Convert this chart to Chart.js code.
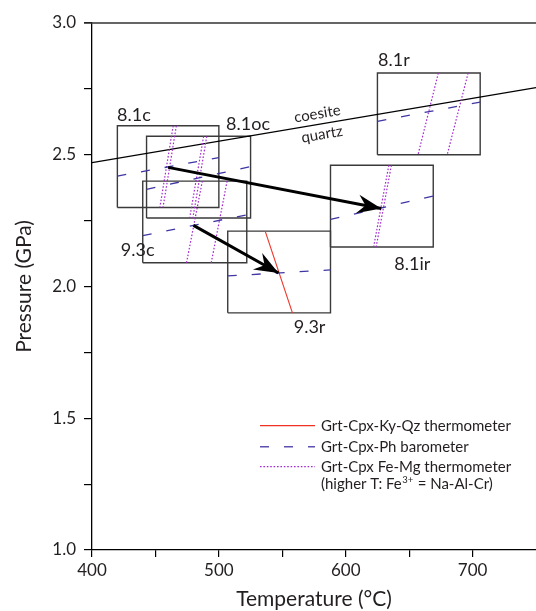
<!DOCTYPE html>
<html>
<head>
<meta charset="utf-8">
<script src="https://cdn.jsdelivr.net/npm/chart.js@4.4.1/dist/chart.umd.min.js"></script>
<style>
html,body{margin:0;padding:0;background:#fff;overflow:hidden;}
#wrap{width:536px;height:611px;position:relative;}
</style>
</head>
<body>
<div id="wrap"><canvas id="c" width="536" height="611"></canvas></div>
<script>
// ---------------- DATA ----------------
const samples   = ['8.1c', '8.1oc', '9.3c', '8.1ir', '8.1r', '9.3r'];
// P-T boxes (°C, GPa)
const boxTmin   = [420, 443, 440, 588, 625, 507];
const boxTmax   = [500, 525, 522, 669, 706, 588];
const boxPmin   = [2.30, 2.26, 2.09, 2.15, 2.50, 1.90];
const boxPmax   = [2.61, 2.57, 2.40, 2.46, 2.81, 2.21];
// Grt-Cpx-Ph barometer: P at the box's low-T and high-T edge
const baroPlow  = [2.419, 2.369, 2.193, 2.255, 2.627, 2.040];
const baroPhigh = [2.489, 2.455, 2.272, 2.343, 2.700, 2.063];
// Grt-Cpx Fe-Mg thermometer: T at the box top (Pmax) and bottom (Pmin)
const femgLowTop  = [464.0, 488.0, 487.0, 634.0, 673.0, null];
const femgLowBot  = [453.5, 477.0, 474.5, 622.0, 657.0, null];
const femgHighTop = [466.5, 490.5, 506.5, 636.0, 696.5, null];
const femgHighBot = [456.0, 479.5, 494.0, 624.0, 680.0, null];
// Grt-Cpx-Ky-Qz thermometer: T at box top and bottom
const kyqzTop   = [null, null, null, null, null, 536.5];
const kyqzBot   = [null, null, null, null, null, 558.0];
// coesite = quartz reaction
const coesiteT  = [400, 750];
const coesiteP  = [2.47, 2.755];
// P-T path arrows (start, end)
const arrowT    = [[460, 628], [480, 547]];
const arrowP    = [[2.452, 2.296], [2.232, 2.051]];
// sample label anchors (°C, GPa)
const labelT    = [433.0, 523.0, 436.0, 652.5, 638.0, 571.5];
const labelP    = [2.649, 2.615, 2.137, 2.086, 2.858, 1.844];
// axis ticks
const xTicks    = [400, 450, 500, 550, 600, 650, 700];
const yTicks    = [1.0, 1.25, 1.5, 1.75, 2.0, 2.25, 2.5, 2.75, 3.0];
const legendLabels = ['Grt-Cpx-Ky-Qz thermometer', 'Grt-Cpx-Ph barometer', 'Grt-Cpx Fe-Mg thermometer'];

// ---------------- STYLE ----------------
const FONT = 'Lato, "Open Sans", sans-serif';
const INK = '#231f20';
const RED = '#ee3124';
const BLUE = '#3f36a3';
const PURPLE = '#a42bd0';
const BOXC = '#3a3a3a';

const datasets = [];
// boxes
samples.forEach((s, i) => {
  datasets.push({
    label: 'box ' + s,
    data: [
      {x: boxTmin[i], y: boxPmin[i]}, {x: boxTmax[i], y: boxPmin[i]},
      {x: boxTmax[i], y: boxPmax[i]}, {x: boxTmin[i], y: boxPmax[i]},
      {x: boxTmin[i], y: boxPmin[i]}
    ],
    borderColor: BOXC, borderWidth: 1.4, order: 5
  });
});
// coesite-quartz
datasets.push({
  label: 'coesite-quartz',
  data: coesiteT.map((t, i) => ({x: t, y: coesiteP[i]})),
  borderColor: '#000', borderWidth: 1.2, order: 4
});
// barometer
samples.forEach((s, i) => {
  datasets.push({
    label: 'baro ' + s,
    data: [{x: boxTmin[i], y: baroPlow[i]}, {x: boxTmax[i], y: baroPhigh[i]}],
    borderColor: BLUE, borderWidth: 1.3, borderDash: [9, 15], order: 3
  });
});
// Fe-Mg thermometer
samples.forEach((s, i) => {
  if (femgLowTop[i] !== null) {
    datasets.push({
      label: 'femg low ' + s,
      data: [{x: femgLowTop[i], y: boxPmax[i]}, {x: femgLowBot[i], y: boxPmin[i]}],
      borderColor: PURPLE, borderWidth: 1.2, borderDash: [1.6, 1.8], order: 3
    });
    datasets.push({
      label: 'femg high ' + s,
      data: [{x: femgHighTop[i], y: boxPmax[i]}, {x: femgHighBot[i], y: boxPmin[i]}],
      borderColor: PURPLE, borderWidth: 1.2, borderDash: [1.6, 1.8], order: 3
    });
  }
  if (kyqzTop[i] !== null) {
    datasets.push({
      label: 'kyqz ' + s,
      data: [{x: kyqzTop[i], y: boxPmax[i]}, {x: kyqzBot[i], y: boxPmin[i]}],
      borderColor: RED, borderWidth: 1.1, order: 3
    });
  }
});
// arrows
arrowT.forEach((ts, k) => {
  datasets.push({
    label: 'arrow ' + k,
    data: ts.map((t, j) => ({x: t, y: arrowP[k][j]})),
    borderColor: '#000', borderWidth: 3, order: 1, isArrow: true
  });
});

const arrowPlugin = {
  id: 'arrowheads',
  afterDatasetsDraw(chart) {
    const ctx = chart.ctx;
    chart.data.datasets.forEach((ds, i) => {
      if (!ds.isArrow) return;
      const pts = chart.getDatasetMeta(i).data;
      const a = pts[pts.length - 2], b = pts[pts.length - 1];
      const dx = b.x - a.x, dy = b.y - a.y, len = Math.hypot(dx, dy);
      const ux = dx / len, uy = dy / len, px = -uy, py = ux;
      const L = 24, W = 9.5, N = 16;
      ctx.save();
      ctx.fillStyle = '#000';
      ctx.beginPath();
      ctx.moveTo(b.x, b.y);
      ctx.lineTo(b.x - L * ux + W * px, b.y - L * uy + W * py);
      ctx.lineTo(b.x - N * ux, b.y - N * uy);
      ctx.lineTo(b.x - L * ux - W * px, b.y - L * uy - W * py);
      ctx.closePath();
      ctx.fill();
      ctx.restore();
    });
  }
};

const textPlugin = {
  id: 'texts',
  afterDatasetsDraw(chart) {
    const ctx = chart.ctx, xs = chart.scales.x, ys = chart.scales.y;
    ctx.save();
    ctx.fillStyle = INK;
    ctx.textAlign = 'center';
    ctx.textBaseline = 'middle';
    ctx.font = '18px ' + FONT;
    samples.forEach((s, i) => {
      ctx.fillText(s, xs.getPixelForValue(labelT[i]), ys.getPixelForValue(labelP[i]));
    });
    // coesite / quartz labels along the reaction line
    const x1 = xs.getPixelForValue(coesiteT[0]), y1 = ys.getPixelForValue(coesiteP[0]);
    const x2 = xs.getPixelForValue(coesiteT[1]), y2 = ys.getPixelForValue(coesiteP[1]);
    const ang = Math.atan2(y2 - y1, x2 - x1);
    ctx.font = '15px ' + FONT;
    [['coesite', 579, -10.5], ['quartz', 580, 10.5]].forEach(([txt, t, off]) => {
      const pT = coesiteP[0] + (t - coesiteT[0]) / (coesiteT[1] - coesiteT[0]) * (coesiteP[1] - coesiteP[0]);
      const cx = xs.getPixelForValue(t), cy = ys.getPixelForValue(pT);
      ctx.save();
      ctx.translate(cx, cy);
      ctx.rotate(ang);
      ctx.fillText(txt, 0, off);
      ctx.restore();
    });
    ctx.restore();
  },
  afterDraw(chart) {
    const ctx = chart.ctx, ca = chart.chartArea;
    ctx.save();
    // top frame line
    ctx.strokeStyle = '#333';
    ctx.lineWidth = 1.3;
    ctx.beginPath();
    ctx.moveTo(ca.left - 8, ca.top);
    ctx.lineTo(ca.right, ca.top);
    ctx.stroke();
    // legend
    const x0 = 260, x1 = 315, tx = 321;
    const rows = [425.7, 446.7, 466.7];
    const styles = [
      {c: RED, d: [], w: 1.2},
      {c: '#5b50b0', d: [9, 15], w: 1.4},
      {c: PURPLE, d: [1.6, 1.8], w: 1.2}
    ];
    rows.forEach((y, k) => {
      ctx.strokeStyle = styles[k].c;
      ctx.lineWidth = styles[k].w;
      ctx.setLineDash(styles[k].d);
      ctx.beginPath();
      ctx.moveTo(x0, y);
      ctx.lineTo(x1, y);
      ctx.stroke();
    });
    ctx.setLineDash([]);
    ctx.fillStyle = INK;
    ctx.textAlign = 'left';
    ctx.textBaseline = 'middle';
    ctx.font = '15px ' + FONT;
    legendLabels.forEach((t, k) => ctx.fillText(t, tx, rows[k]));
    // (higher T: Fe3+ = Na-Al-Cr)
    const y4 = 484;
    let x = tx;
    const p1 = '(higher T: Fe';
    ctx.fillText(p1, x, y4);
    x += ctx.measureText(p1).width + 0.5;
    ctx.font = '9.5px ' + FONT;
    ctx.fillText('3+', x, y4 - 4.5);
    x += ctx.measureText('3+').width + 0.5;
    ctx.font = '15px ' + FONT;
    ctx.fillText(' = Na-Al-Cr)', x, y4);
    ctx.restore();
  }
};

new Chart(document.getElementById('c'), {
  type: 'scatter',
  data: {datasets},
  options: {
    responsive: false,
    animation: false,
    devicePixelRatio: 1,
    showLine: true,
    elements: {point: {radius: 0, hoverRadius: 0}, line: {tension: 0, fill: false}},
    layout: {padding: {top: 23, left: 0, right: 0, bottom: 0}},
    plugins: {legend: {display: false}, tooltip: {enabled: false}},
    scales: {
      x: {
        type: 'linear', min: 400, max: 750,
        afterBuildTicks: s => { s.ticks = xTicks.map(v => ({value: v})); },
        afterFit: s => { s.height = 61; },
        ticks: {
          autoSkip: false, maxRotation: 0, padding: 3,
          callback: v => (v % 100 === 0 ? String(v) : ''),
          font: {family: FONT, size: 17}, color: INK
        },
        grid: {drawOnChartArea: false, tickLength: 7, color: '#000', lineWidth: 1.2},
        border: {color: '#000', width: 1.3},
        title: {display: true, text: 'Temperature (°C)', color: INK,
                font: {family: FONT, size: 21, lineHeight: 1.1}, padding: {top: 0, bottom: 0}}
      },
      y: {
        type: 'linear', min: 1, max: 3,
        afterBuildTicks: s => { s.ticks = yTicks.map(v => ({value: v})); },
        afterFit: s => { s.width = 92; },
        ticks: {
          autoSkip: false, padding: 8,
          callback: v => (Math.round(v * 100) % 50 === 0 ? v.toFixed(1) : ''),
          font: {family: FONT, size: 17}, color: INK
        },
        grid: {drawOnChartArea: false, tickLength: 8, color: '#000', lineWidth: 1.2},
        border: {color: '#000', width: 1.3},
        title: {display: true, text: 'Pressure (GPa)', color: INK,
                font: {family: FONT, size: 21, lineHeight: 1.1}, padding: {top: 13, bottom: 0}}
      }
    }
  },
  plugins: [arrowPlugin, textPlugin]
});
</script>
</body>
</html>
